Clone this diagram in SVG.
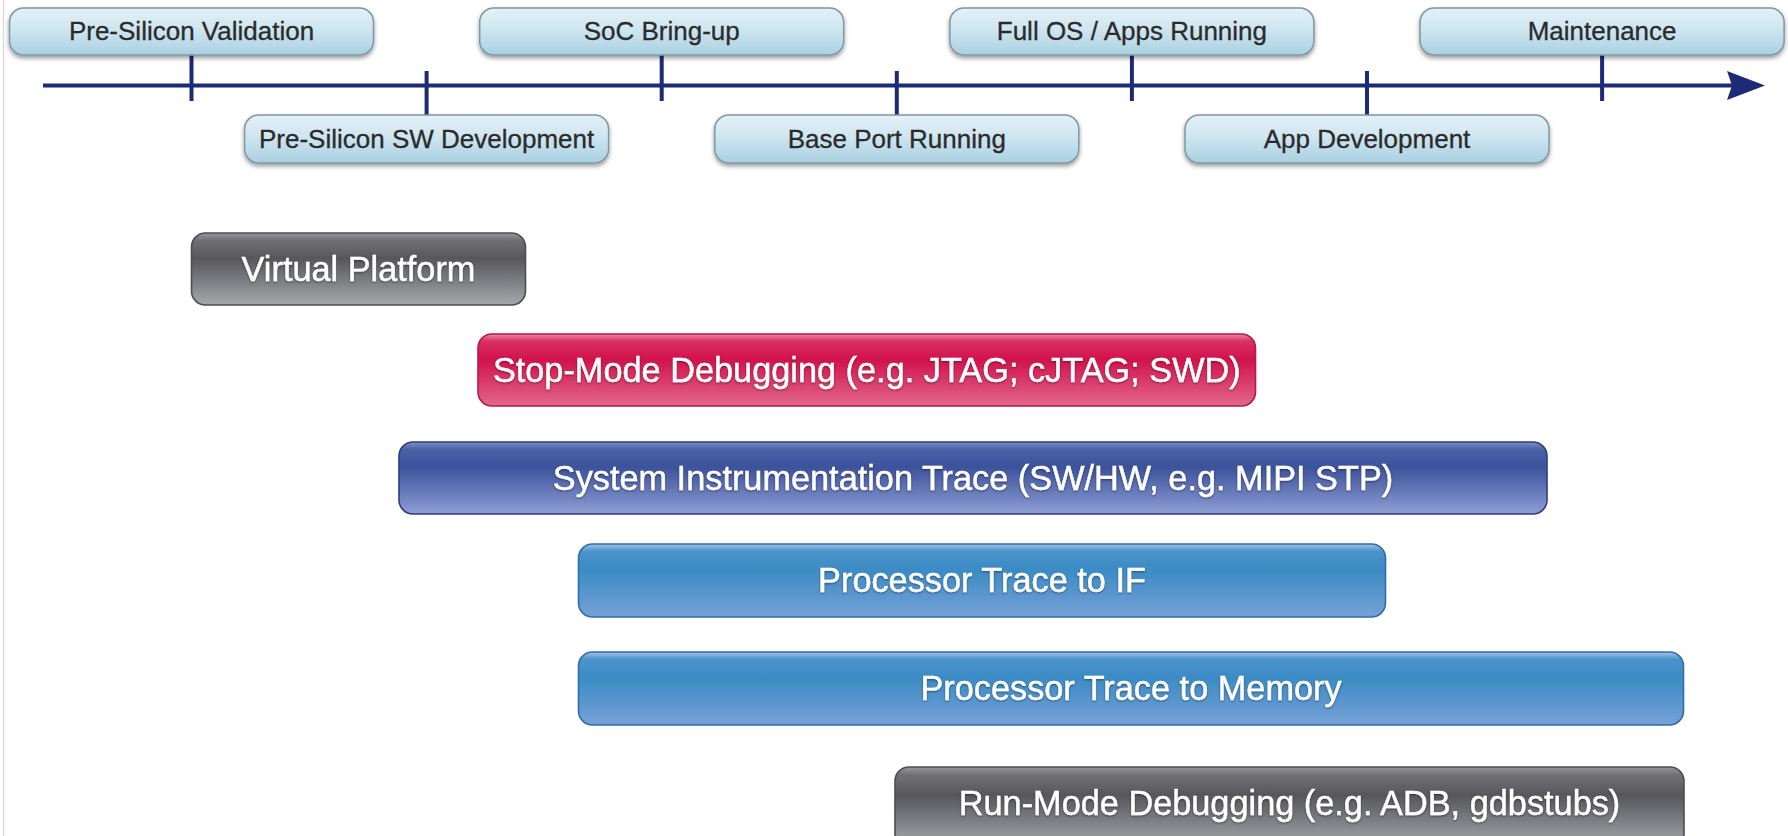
<svg xmlns="http://www.w3.org/2000/svg" width="1788" height="836" viewBox="0 0 1788 836">
  <style>
    .ms rect { fill: url(#gMilestone); stroke: #7f98a3; stroke-width: 1.5; filter: url(#shadow); }
    .ms text { font-family: "Liberation Sans", Arial, Helvetica, sans-serif; font-size: 26px; fill: #2b2b2b; stroke: #2b2b2b; stroke-width: 0.3; text-anchor: middle; }
    .bar text { font-family: "Liberation Sans", Arial, Helvetica, sans-serif; font-size: 34.3px; fill: #ffffff; stroke: #ffffff; stroke-width: 0.4; text-anchor: middle; filter: url(#textShadow); }
    .bar rect { stroke-width: 1.6; }
    .gray rect { fill: url(#gGray); stroke: #4d4d52; }
    .red rect { fill: url(#gRed); stroke: #b8164c; }
    .navy rect { fill: url(#gNavy); stroke: #2d3d82; }
    .blue rect { fill: url(#gBlue); stroke: #2f6ea8; }
    .axis { stroke: #1c2a78; stroke-width: 4; fill: none; }
    .tick { stroke: #1c2a78; stroke-width: 4; }
  </style>
  <defs>
    <linearGradient id="gMilestone" x1="0" y1="0" x2="0" y2="1">
      <stop offset="0" stop-color="#e4f1f7"/>
      <stop offset="0.45" stop-color="#cfe6f0"/>
      <stop offset="1" stop-color="#a9d0e2"/>
    </linearGradient>
    <linearGradient id="gGray" x1="0" y1="0" x2="0" y2="1">
      <stop offset="0" stop-color="#97979b"/>
      <stop offset="0.1" stop-color="#707075"/>
      <stop offset="0.35" stop-color="#56565b"/>
      <stop offset="1" stop-color="#a6a8ac"/>
    </linearGradient>
    <linearGradient id="gRed" x1="0" y1="0" x2="0" y2="1">
      <stop offset="0" stop-color="#ea8aa3"/>
      <stop offset="0.1" stop-color="#da3064"/>
      <stop offset="0.35" stop-color="#d1124c"/>
      <stop offset="1" stop-color="#e2678c"/>
    </linearGradient>
    <linearGradient id="gNavy" x1="0" y1="0" x2="0" y2="1">
      <stop offset="0" stop-color="#7f90c8"/>
      <stop offset="0.1" stop-color="#4a62a8"/>
      <stop offset="0.35" stop-color="#3c529b"/>
      <stop offset="1" stop-color="#8e9ed4"/>
    </linearGradient>
    <linearGradient id="gBlue" x1="0" y1="0" x2="0" y2="1">
      <stop offset="0" stop-color="#a2c4e6"/>
      <stop offset="0.1" stop-color="#4c93cc"/>
      <stop offset="0.35" stop-color="#3b8bc4"/>
      <stop offset="1" stop-color="#76a1d7"/>
    </linearGradient>
    <filter id="shadow" x="-5%" y="-20%" width="110%" height="150%">
      <feDropShadow dx="0" dy="2.5" stdDeviation="2" flood-color="#000" flood-opacity="0.4"/>
    </filter>
    <filter id="textShadow" x="-5%" y="-30%" width="110%" height="160%">
      <feDropShadow dx="0" dy="1" stdDeviation="0.8" flood-color="#000" flood-opacity="0.45"/>
    </filter>
    <marker id="arrow" markerUnits="userSpaceOnUse" markerWidth="40" markerHeight="30" refX="8" refY="14.5" orient="auto">
      <path d="M0,0 L38,14.5 L0,29 L5,14.5 Z" fill="#1c2a78"/>
    </marker>
  </defs>

  <rect x="0" y="0" width="1788" height="836" fill="#ffffff"/>
  <line x1="3.5" y1="0" x2="3.5" y2="836" stroke="#dcdcdc" stroke-width="1.5"/>

  <!-- timeline axis and milestone ticks -->
  <g id="connectors">
    <path class="axis" d="M43,85.5 H1735" marker-end="url(#arrow)"/>
    <line class="tick" x1="191.5" y1="55" x2="191.5" y2="101"/>
    <line class="tick" x1="426.6" y1="71" x2="426.6" y2="115"/>
    <line class="tick" x1="661.7" y1="55" x2="661.7" y2="101"/>
    <line class="tick" x1="896.8" y1="71" x2="896.8" y2="115"/>
    <line class="tick" x1="1131.9" y1="55" x2="1131.9" y2="101"/>
    <line class="tick" x1="1367" y1="71" x2="1367" y2="115"/>
    <line class="tick" x1="1602.1" y1="55" x2="1602.1" y2="101"/>
  </g>

  <!-- milestones above the axis -->
  <g id="pre-silicon-validation" class="ms">
    <rect x="9.5" y="8" width="364" height="47" rx="14"/>
    <text x="191.5" y="40">Pre-Silicon Validation</text>
  </g>
  <g id="soc-bring-up" class="ms">
    <rect x="479.7" y="8" width="364" height="47" rx="14"/>
    <text x="661.7" y="40">SoC Bring-up</text>
  </g>
  <g id="full-os-apps-running" class="ms">
    <rect x="949.9" y="8" width="364" height="47" rx="14"/>
    <text x="1131.9" y="40">Full OS / Apps Running</text>
  </g>
  <g id="maintenance" class="ms">
    <rect x="1420.1" y="8" width="364" height="47" rx="14"/>
    <text x="1602.1" y="40">Maintenance</text>
  </g>

  <!-- milestones below the axis -->
  <g id="pre-silicon-sw-development" class="ms">
    <rect x="244.6" y="115" width="364" height="48" rx="14"/>
    <text x="426.6" y="148">Pre-Silicon SW Development</text>
  </g>
  <g id="base-port-running" class="ms">
    <rect x="714.8" y="115" width="364" height="48" rx="14"/>
    <text x="896.8" y="148">Base Port Running</text>
  </g>
  <g id="app-development" class="ms">
    <rect x="1185" y="115" width="364" height="48" rx="14"/>
    <text x="1367" y="148">App Development</text>
  </g>

  <!-- debug technique spans -->
  <g id="virtual-platform" class="bar gray">
    <rect x="191.5" y="233" width="334" height="72" rx="14"/>
    <text x="358.5" y="281">Virtual Platform</text>
  </g>
  <g id="stop-mode-debugging" class="bar red">
    <rect x="478" y="334" width="777.5" height="72" rx="14"/>
    <text x="866.8" y="382">Stop-Mode Debugging (e.g. JTAG; cJTAG; SWD)</text>
  </g>
  <g id="system-instrumentation-trace" class="bar navy">
    <rect x="399" y="442" width="1148" height="72" rx="14"/>
    <text x="973" y="490">System Instrumentation Trace (SW/HW, e.g. MIPI STP)</text>
  </g>
  <g id="processor-trace-if" class="bar blue">
    <rect x="578.5" y="544" width="807" height="73" rx="14"/>
    <text x="982" y="592">Processor Trace to IF</text>
  </g>
  <g id="processor-trace-memory" class="bar blue">
    <rect x="578.5" y="652" width="1105" height="73" rx="14"/>
    <text x="1131" y="700">Processor Trace to Memory</text>
  </g>
  <g id="run-mode-debugging" class="bar gray">
    <rect x="895" y="767" width="789" height="80" rx="14"/>
    <text x="1289.5" y="815">Run-Mode Debugging (e.g. ADB, gdbstubs)</text>
  </g>
</svg>
